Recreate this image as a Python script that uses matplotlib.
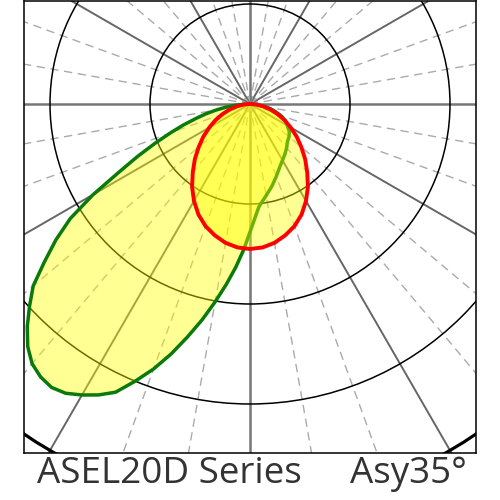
import numpy as np
import matplotlib.pyplot as plt
from matplotlib.patches import Circle

# photometric data (100 = one ring), angle 0 = straight down, + = right
green_ang = [-90, -87.5, -85, -82.5, -80, -77.5, -75, -72.5, -70, -67.5, -65, -62.5, -60,
             -57.5, -55, -52.5, -50, -47.5, -45, -42.5, -40, -37.5, -35, -32.5, -30,
             -27.5, -25, -22.5, -20, -17.5, -15, -12.5, -10, -7.5, -5, -2.5, 0,
             5, 10, 15, 20, 25, 30, 35, 40, 45, 50, 55, 60, 65, 70, 75, 80, 85, 90]
green_r = [0, 6, 15, 24, 34, 45, 56, 70, 85, 103, 124, 148, 181,
           213, 237, 259, 283, 299, 315, 329, 339, 344, 346, 343, 336,
           328, 318, 300, 282, 262, 241, 221, 201, 182, 164, 146, 128,
           103, 93, 85, 77, 70, 65, 61, 57, 53, 51, 48, 43, 39, 32, 24, 16, 8, 0]

red_ang = list(range(-90, 91, 5))
red_half = [145, 144, 141, 136, 130, 122, 112, 101, 89, 78, 67, 57, 47, 38, 29, 21, 13, 6, 0]
red_r = red_half[::-1] + red_half[1:]

rings = [100, 200, 300]
outer_ring = 400
title_left = "ASEL20D Series"
title_right = "Asy35°"

fig = plt.figure(figsize=(5, 5), dpi=100, facecolor='w')
ax = fig.add_axes([24/500, 47/500, 452/500, 452/500])
ax.set_xlim(-226, 226)
ax.set_ylim(-349, 103)
ax.set_xticks([])
ax.set_yticks([])
for s in ax.spines.values():
    s.set_color('black')
    s.set_linewidth(1.1)
    s.set_zorder(10)

# spokes: solid every 30 deg, dashed every 10 deg
for a in range(0, 360, 10):
    t = np.deg2rad(a)
    xs = [0, 420*np.sin(t)]
    ys = [0, -420*np.cos(t)]
    if a % 90 == 0:
        ax.plot(xs, ys, color='#777777', lw=1.8, zorder=1)
    elif a % 30 == 0:
        ax.plot(xs, ys, color='#666666', lw=1.4, zorder=1)
    else:
        ax.plot(xs, ys, color='#aaaaaa', lw=1.0, ls=(0, (6, 4)), zorder=1)

for r in rings:
    ax.add_patch(Circle((0, 0), r, fill=False, ec='black', lw=1.1, zorder=2))
ax.add_patch(Circle((0, 0), outer_ring, fill=False, ec='black', lw=2.3, zorder=2))

tg = np.deg2rad(green_ang)
gx = np.array(green_r)*np.sin(tg)
gy = -np.array(green_r)*np.cos(tg)
tr = np.deg2rad(red_ang)
rx = np.array(red_r)*np.sin(tr)
ry = -np.array(red_r)*np.cos(tr)

ax.fill(gx, gy, color='yellow', alpha=0.42, lw=0, zorder=3)
ax.plot(gx, gy, color='#0a7a0a', lw=2.5, solid_joinstyle='round', zorder=4)
ax.fill(rx, ry, color='yellow', alpha=0.42, lw=0, zorder=5)
ax.plot(rx, ry, color='red', lw=2.8, solid_joinstyle='round', zorder=6)

fig.text(37/500, 17/500, title_left, ha='left', va='baseline', fontsize=26.5,
         family='Open Sans', color='#333333')
fig.text(467/500, 17/500, title_right, ha='right', va='baseline', fontsize=26.5,
         family='Open Sans', color='#333333')

fig.savefig('out.png', dpi=100)
